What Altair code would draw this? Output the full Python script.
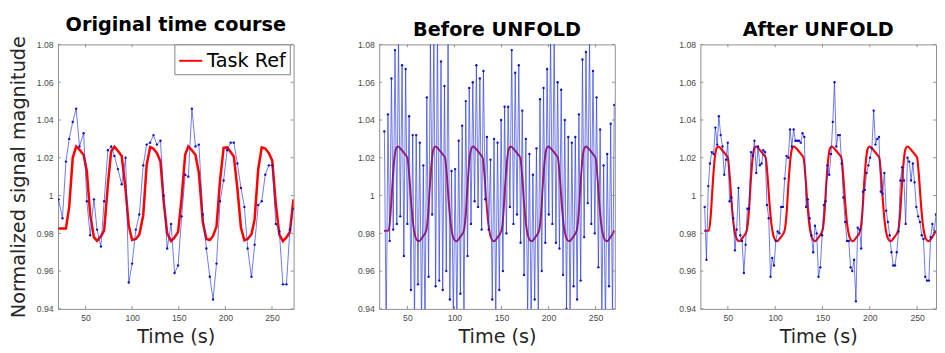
import altair as alt
import pandas as pd

# ---------------- data ----------------
# Panel 1: original time course (TR ~3.8 s)
t1 = [21.1, 25.3, 29.0, 32.5, 36.3, 40.0, 43.5, 48.0, 51.4, 55.0,
      59.0, 62.4, 66.5, 70.0, 74.0, 77.5, 81.0, 84.7, 88.8, 93.0,
      96.4, 100.0, 104.0, 107.7, 111.9, 115.6, 119.4, 122.9, 126.6, 130.4,
      133.8, 137.6, 141.8, 145.5, 149.3, 153.1, 156.9, 160.3, 164.1, 167.9,
      171.6, 175.8, 179.6, 183.3, 186.8, 190.5, 194.3, 198.1, 201.9, 205.7,
      209.1, 212.9, 216.7, 220.4, 223.9, 228.0, 231.4, 235.2, 239.0, 242.8,
      246.6, 250.3, 254.1, 257.9, 261.7, 265.5, 269.2, 273.0]
blue1 = [0.998, 0.988, 1.018, 1.030, 1.039, 1.046, 1.026, 1.033, 0.997, 0.979,
         0.998, 0.982, 0.973, 0.997, 1.024, 1.026, 1.021, 1.014, 1.006, 1.020,
         0.954, 0.964, 0.982, 0.990, 1.016, 1.027, 1.028, 1.032, 1.027, 1.029,
         1.000, 0.972, 0.985, 0.959, 0.963, 0.989, 1.011, 1.010, 1.046, 1.026,
         1.027, 0.990, 0.972, 0.957, 0.945, 0.964, 0.997, 1.008, 1.024, 1.028,
         1.028, 1.017, 1.004, 0.994, 0.972, 0.957, 0.974, 0.995, 0.997, 1.011,
         1.016, 1.016, 0.985, 0.981, 0.953, 0.953, 0.982, 0.993]
red1 = [0.9825, 0.9825, 0.9825, 0.994, 1.020, 1.026, 1.0244, 1.0215, 1.013, 0.990,
        0.978, 0.976, 0.9784, 0.9815, 1.006, 1.0235, 1.0258, 1.0237, 1.021, 1.003,
        0.984, 0.9765, 0.977, 0.9793, 0.9896, 1.0164, 1.0257, 1.0248, 1.0225, 1.018,
        0.997, 0.980, 0.9759, 0.9778, 0.9808, 0.9988, 1.0217, 1.026, 1.024, 1.0216,
        1.012, 0.986, 0.977, 0.9765, 0.9786, 0.9836, 1.008, 1.0253, 1.0255, 1.0231,
        1.0207, 1.0037, 0.983, 0.9763, 0.977, 0.9795, 0.9875, 1.0138, 1.0255, 1.0249,
        1.0225, 1.0185, 0.9955, 0.9793, 0.9759, 0.9778, 0.9807, 0.998]

# Panels 2 and 3: sampling times (~1.9 s)
t23 = [25.5, 27.4, 29.3, 31.1, 33.0, 34.9, 36.8, 38.7, 40.5, 42.4,
       44.3, 46.2, 48.1, 49.9, 51.8, 53.7, 55.6, 57.5, 59.3, 61.2,
       63.1, 65.0, 66.9, 68.7, 70.6, 72.5, 74.4, 76.3, 78.1, 80.0,
       81.9, 83.8, 85.7, 87.5, 89.4, 91.3, 93.2, 95.1, 96.9, 98.8,
       100.7, 102.6, 104.5, 106.3, 108.2, 110.1, 112.0, 113.9, 115.7, 117.6,
       119.5, 121.4, 123.3, 125.1, 127.0, 128.9, 130.8, 132.7, 134.5, 136.4,
       138.3, 140.2, 142.1, 143.9, 145.8, 147.7, 149.6, 151.5, 153.3, 155.2,
       157.1, 159.0, 160.9, 162.7, 164.6, 166.5, 168.4, 170.3, 172.1, 174.0,
       175.9, 177.8, 179.7, 181.5, 183.4, 185.3, 187.2, 189.1, 190.9, 192.8,
       194.7, 196.6, 198.5, 200.3, 202.2, 204.1, 206.0, 207.9, 209.7, 211.6,
       213.5, 215.4, 217.3, 219.1, 221.0, 222.9, 224.8, 226.7, 228.5, 230.4,
       232.3, 234.2, 236.1, 237.9, 239.8, 241.7, 243.6, 245.5, 247.3, 249.2,
       251.1, 253.0, 254.9, 256.7, 258.6, 260.5, 262.4, 264.3, 266.1, 268.0,
       269.9]
blue2 = [1.034, 0.925, 1.043, 0.976, 1.062, 0.982, 1.077, 0.985, 1.085, 0.989,
         1.069, 0.968, 1.067, 0.985, 1.042, 0.950, 1.032, 0.932, 1.032, 0.953,
         1.028, 0.932, 1.016, 0.928, 1.052, 0.957, 1.082, 0.990, 1.086, 0.952,
         1.088, 0.955, 1.071, 0.950, 1.058, 0.960, 1.083, 0.945, 1.013, 0.935,
         1.014, 0.930, 1.029, 0.948, 1.037, 0.935, 1.050, 0.968, 1.057, 0.985,
         1.060, 0.997, 1.069, 0.994, 1.062, 0.982, 1.066, 0.998, 1.031, 0.982,
         1.019, 0.945, 1.030, 0.935, 1.028, 0.950, 1.040, 0.960, 1.047, 0.980,
         1.047, 0.994, 1.077, 0.985, 1.065, 0.990, 1.069, 0.975, 1.045, 0.958,
         1.030, 0.935, 1.022, 0.932, 1.011, 0.945, 1.025, 0.938, 1.051, 0.960,
         1.057, 0.975, 1.067, 0.990, 1.085, 0.985, 1.085, 0.975, 1.060, 0.972,
         1.056, 0.958, 1.040, 0.940, 1.031, 0.935, 1.028, 0.952, 1.031, 0.945,
         1.043, 0.955, 1.072, 0.978, 1.076, 0.996, 1.082, 0.985, 1.066, 0.980,
         1.052, 0.962, 1.035, 0.935, 1.016, 0.930, 1.022, 0.952, 1.038, 0.935,
         1.048]
blue3 = [0.994, 0.966, 1.005, 1.017, 1.023, 1.022, 1.036, 1.027, 1.042, 1.032,
         1.026, 1.011, 1.019, 1.028, 0.997, 0.999, 0.988, 0.971, 0.982, 1.004,
         0.979, 0.976, 0.959, 0.974, 0.993, 0.993, 1.023, 1.021, 1.029, 1.012,
         1.026, 1.016, 1.017, 1.024, 1.023, 0.995, 0.988, 0.957, 0.967, 0.963,
         0.976, 0.981, 0.980, 0.994, 0.994, 1.009, 1.021, 1.020, 1.035, 1.026,
         1.035, 1.029, 1.029, 1.029, 1.028, 1.033, 1.031, 0.994, 0.998, 0.988,
         0.979, 0.970, 0.984, 0.980, 0.957, 0.962, 0.979, 0.995, 0.997, 1.016,
         1.011, 1.022, 1.039, 1.060, 1.026, 1.032, 1.032, 1.017, 0.999, 0.986,
         0.976, 0.976, 0.962, 0.960, 0.966, 0.944, 0.983, 0.982, 0.972, 1.002,
         1.003, 1.012, 1.016, 1.020, 1.025, 1.045, 1.027, 1.030, 1.031, 1.002,
         1.001, 1.012, 0.992, 0.986, 0.979, 0.970, 0.963, 0.963, 0.970, 0.981,
         1.008, 1.015, 1.008, 0.985, 1.020, 1.018, 1.008, 1.017, 1.007, 0.994,
         0.989, 0.986, 0.979, 0.977, 0.957, 0.955, 0.955, 0.978, 0.985, 0.980,
         0.990]

# Task reference (smooth) for panels 2 and 3
ref_t = [25, 30,
         32, 34, 36, 38, 40, 44, 48, 50, 52, 54, 56, 58, 60, 62, 66, 70,
         72, 74, 76, 78, 80, 84, 88, 90, 92, 94, 96, 98, 100, 102, 106, 110,
         112, 114, 116, 118, 120, 124, 128, 130, 132, 134, 136, 138, 140, 142, 146, 150,
         152, 154, 156, 158, 160, 164, 168, 170, 172, 174, 176, 178, 180, 182, 186, 190,
         192, 194, 196, 198, 200, 204, 208, 210, 212, 214, 216, 218, 220, 222, 226, 230,
         232, 234, 236, 238, 240, 244, 248, 250, 252, 254, 256, 258, 260, 262, 266, 270]
ref_v = [0.9813, 0.9815,
         0.990, 1.006, 1.019, 1.025, 1.026, 1.024, 1.0215, 1.020, 1.010, 0.996, 0.985, 0.979, 0.9765, 0.9758, 0.978, 0.9815,
         0.990, 1.006, 1.019, 1.025, 1.026, 1.024, 1.0215, 1.020, 1.010, 0.996, 0.985, 0.979, 0.9765, 0.9758, 0.978, 0.9815,
         0.990, 1.006, 1.019, 1.025, 1.026, 1.024, 1.0215, 1.020, 1.010, 0.996, 0.985, 0.979, 0.9765, 0.9758, 0.978, 0.9815,
         0.990, 1.006, 1.019, 1.025, 1.026, 1.024, 1.0215, 1.020, 1.010, 0.996, 0.985, 0.979, 0.9765, 0.9758, 0.978, 0.9815,
         0.990, 1.006, 1.019, 1.025, 1.026, 1.024, 1.0215, 1.020, 1.010, 0.996, 0.985, 0.979, 0.9765, 0.9758, 0.978, 0.9815,
         0.990, 1.006, 1.019, 1.025, 1.026, 1.024, 1.0215, 1.020, 1.010, 0.996, 0.985, 0.979, 0.9765, 0.9758, 0.978, 0.9815]

titles = ["Original time course", "Before UNFOLD", "After UNFOLD"]
x_ticks = [50, 100, 150, 200, 250]
y_ticks = [0.94, 0.96, 0.98, 1.0, 1.02, 1.04, 1.06, 1.08]
x_domains = [[20.5, 273.2], [20.0, 270.5], [21.0, 270.0]]
y_domain = [0.94, 1.08]

# ---------------- style ----------------
W, H = 245, 275
TICK_LEN = 3
GRAY = "#8c8c8c"
LABEL_FONT = "Liberation Sans"
TITLE_FONT = "DejaVu Sans"
LABEL_COLOR = "#4a4a4a"
BLUE_LINE = "#2233dd"
BLUE_DOT = "#1010c0"
RED_COLORS = ["#ff0000", "#cc1040", "#ff0000"]

xtick_df = pd.DataFrame({"t": x_ticks})
ytick_df = pd.DataFrame({"v": y_ticks})


def panel(idx, bt, bv, rt, rv, red_width, legend):
    xs = alt.Scale(domain=x_domains[idx], nice=False, zero=False)
    ys = alt.Scale(domain=y_domain, nice=False, zero=False)
    blue = pd.DataFrame({"t": bt, "v": bv})
    red = pd.DataFrame({"t": rt, "v": rv, "s": ["Task Ref"] * len(rt)})

    main_x = alt.Axis(orient="bottom", values=x_ticks, ticks=False, domain=False,
                      grid=False, labelFont=LABEL_FONT, labelFontSize=9,
                      labelColor=LABEL_COLOR, labelPadding=5,
                      title="Time (s)", titleFont=TITLE_FONT, titleFontSize=20,
                      titleFontWeight="normal", titleColor="#262626", titlePadding=5)
    y_kwargs = dict(orient="left", values=y_ticks, format="~g", ticks=False,
                    domain=False, grid=False, labelFont=LABEL_FONT, labelFontSize=9,
                    labelColor=LABEL_COLOR, labelPadding=5)
    if idx == 0:
        main_y = alt.Axis(title="Normalized signal magnitude", titleFont=TITLE_FONT,
                          titleFontSize=20, titleFontWeight="normal",
                          titleColor="#262626", titlePadding=8, **y_kwargs)
    else:
        main_y = alt.Axis(title=None, **y_kwargs)

    if legend:
        color = alt.Color("s:N", scale=alt.Scale(domain=["Task Ref"], range=[RED_COLORS[idx]]),
                          legend=alt.Legend(orient="none", legendX=121, legendY=0,
                                            title=None, symbolType="stroke",
                                            symbolSize=576, symbolStrokeWidth=2,
                                            labelFont=TITLE_FONT, labelFontSize=20,
                                            labelColor="black", labelOffset=4,
                                            padding=4, strokeColor="#7f7f7f",
                                            fillColor="white", cornerRadius=0))
        red_layer = alt.Chart(red).mark_line(strokeWidth=red_width, clip=True).encode(
            x=alt.X("t:Q", scale=xs, axis=main_x),
            y=alt.Y("v:Q", scale=ys, axis=main_y),
            color=color)
    else:
        red_layer = alt.Chart(red).mark_line(color=RED_COLORS[idx], strokeWidth=red_width,
                                             interpolate="monotone", clip=True).encode(
            x=alt.X("t:Q", scale=xs, axis=main_x),
            y=alt.Y("v:Q", scale=ys, axis=main_y))

    line_layer = alt.Chart(blue).mark_line(color=BLUE_LINE, strokeWidth=0.9,
                                           opacity=0.75, clip=True).encode(
        x=alt.X("t:Q", scale=xs, axis=None),
        y=alt.Y("v:Q", scale=ys, axis=None))
    dot_layer = alt.Chart(blue).mark_circle(color=BLUE_DOT, size=6, opacity=1,
                                            clip=True).encode(
        x=alt.X("t:Q", scale=xs, axis=None),
        y=alt.Y("v:Q", scale=ys, axis=None))

    # inward tick marks on all four sides of the box (MATLAB style)
    tick_layers = [
        alt.Chart(ytick_df).mark_rule(color=GRAY, strokeWidth=1).encode(
            y=alt.Y("v:Q", scale=ys, axis=None), x=alt.value(0), x2=alt.value(TICK_LEN)),
        alt.Chart(ytick_df).mark_rule(color=GRAY, strokeWidth=1).encode(
            y=alt.Y("v:Q", scale=ys, axis=None), x=alt.value(W - TICK_LEN), x2=alt.value(W)),
        alt.Chart(xtick_df).mark_rule(color=GRAY, strokeWidth=1).encode(
            x=alt.X("t:Q", scale=xs, axis=None), y=alt.value(0), y2=alt.value(TICK_LEN)),
        alt.Chart(xtick_df).mark_rule(color=GRAY, strokeWidth=1).encode(
            x=alt.X("t:Q", scale=xs, axis=None), y=alt.value(H - TICK_LEN), y2=alt.value(H)),
    ]

    return alt.layer(red_layer, line_layer, dot_layer, *tick_layers).resolve_axis(
        x="independent", y="independent").properties(
        width=W, height=H,
        title=alt.Title(titles[idx], font=TITLE_FONT, fontSize=20, fontWeight="bold",
                        color="black", baseline="bottom", offset=-19, anchor="middle"))


p1 = panel(0, t1, blue1, t1, red1, 2.6, True)
p2 = panel(1, t23, blue2, ref_t, ref_v, 2.0, False)
p3 = panel(2, t23, blue3, ref_t, ref_v, 2.2, False)

chart = alt.hconcat(p1, p2, p3, spacing=64).resolve_scale(
    x="independent", y="independent", color="independent").properties(
    padding=0, background="white").configure_view(stroke=GRAY, strokeWidth=1)

chart.save("out.html", embed_options={"renderer": "svg", "actions": False})
